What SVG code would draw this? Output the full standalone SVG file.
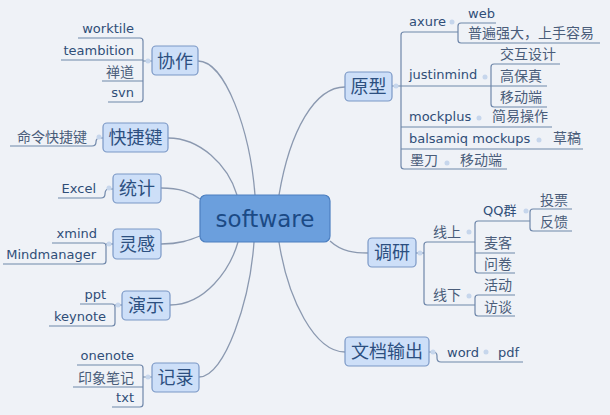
<svg xmlns="http://www.w3.org/2000/svg" width="610" height="415" viewBox="0 0 610 415">
<style>
.bg{fill:#eff2f7}
.main-link{fill:none;stroke:#8b99b0;stroke-width:1.3}
.sub-link{fill:none;stroke:#6f87aa;stroke-width:1.2}
.dot{fill:#c6d6ec}
.central rect{fill:#6b9fdd;stroke:#4c7fc0;stroke-width:1.2}
.central text{font-family:"DejaVu Sans","Noto Sans",sans-serif;font-size:23px;fill:#1b4a85;text-anchor:middle}
.topic rect{fill:#cddff8;stroke:#7b98c6;stroke-width:1.2}
.topic text{font-family:"Noto Sans CJK SC","Noto Sans CJK JP",sans-serif;font-size:18px;fill:#2c4f80;text-anchor:middle}
.en{font-family:"DejaVu Sans","Noto Sans CJK SC",sans-serif;font-size:13px;fill:#2f4e78}
.cn{font-family:"Noto Sans CJK SC","Noto Sans CJK JP",sans-serif;font-size:14px;fill:#4a5d7a}
.end{text-anchor:end}
</style>
<rect class="bg" x="0" y="0" width="610" height="415"/>

<g id="connectors">
  <!-- main curves -->
  <path class="main-link" d="M198,61 C225,61 250,130 255,195"/>
  <path class="main-link" d="M168,138 C200,138 228,165 237,195"/>
  <path class="main-link" d="M161,188 C180,188 190,192 200,199"/>
  <path class="main-link" d="M161,244 C180,244 190,240 200,236"/>
  <path class="main-link" d="M170,305 C205,305 230,270 238,242"/>
  <path class="main-link" d="M199,377 C225,377 250,300 254,242"/>
  <path class="main-link" d="M279,195 C290,130 315,87 345,87"/>
  <path class="main-link" d="M330,241 C342,252 355,253 368,253"/>
  <path class="main-link" d="M279,242 C288,300 315,352 345,352"/>

  <!-- 协作 -->
  <path class="sub-link" d="M78,38 H140 Q143,38 143,41 V99 Q143,102 140,102 H108"/>
  <path class="sub-link" d="M61,60 H143 M102,81 H143 M143,61 H152"/>
  <!-- 快捷键 -->
  <path class="sub-link" d="M10,146 H92 Q96,146 96,142 Q96,138 100,138 H103"/>
  <!-- 统计 -->
  <path class="sub-link" d="M58,198 H101 Q105,198 105,194 Q105,189 109,189 H113"/>
  <!-- 灵感 -->
  <path class="sub-link" d="M52,243 H103 Q106,243 106,246 V261 Q106,264 103,264 H3"/>
  <path class="sub-link" d="M106,244 H113"/>
  <!-- 演示 -->
  <path class="sub-link" d="M80,304 H112 Q115,304 115,307 V323 Q115,326 112,326 H49"/>
  <path class="sub-link" d="M115,305 H122"/>
  <!-- 记录 -->
  <path class="sub-link" d="M77,365 H140 Q143,365 143,368 V404 Q143,407 140,407 H112"/>
  <path class="sub-link" d="M73,387 H143 M143,377 H152"/>
  <!-- 原型 -->
  <path class="sub-link" d="M458,32 H404 Q401,32 401,35 V166 Q401,169 404,169 H507"/>
  <path class="sub-link" d="M392,86 H401 M401,86 H491 M401,127 H552 M401,149 H583"/>
  <path class="sub-link" d="M496,23 H461 Q458,23 458,26 V40 Q458,43 461,43 H600"/>
  <path class="sub-link" d="M560,64 H494 Q491,64 491,67 V104 Q491,107 494,107 H547 M491,86 H547"/>
  <!-- 调研 -->
  <path class="sub-link" d="M416,253 H424"/>
  <path class="sub-link" d="M475,242 H427 Q424,242 424,245 V302 Q424,305 427,305 H475"/>
  <path class="sub-link" d="M530,221 H478 Q475,221 475,224 V270 Q475,273 478,273 H515 M475,253 H515"/>
  <path class="sub-link" d="M572,209 H533 Q530,209 530,212 V228 Q530,231 533,231 H572"/>
  <path class="sub-link" d="M515,295 H478 Q475,295 475,298 V313 Q475,316 478,316 H515"/>
  <!-- 文档输出 -->
  <path class="sub-link" d="M429,352 H433 Q437,352 437,356 V358 Q437,362 441,362 H523"/>

  <!-- collapse dots -->
  <circle class="dot" cx="148" cy="61" r="2.5"/>
  <circle class="dot" cx="99" cy="137" r="2.5"/>
  <circle class="dot" cx="109" cy="188" r="2.5"/>
  <circle class="dot" cx="109" cy="244" r="2.5"/>
  <circle class="dot" cx="118" cy="305" r="2.5"/>
  <circle class="dot" cx="148" cy="377" r="2.5"/>
  <circle class="dot" cx="396" cy="86" r="2.5"/>
  <circle class="dot" cx="452" cy="22" r="2.5"/>
  <circle class="dot" cx="485" cy="77" r="2.5"/>
  <circle class="dot" cx="479" cy="118" r="2.5"/>
  <circle class="dot" cx="539" cy="140" r="2.5"/>
  <circle class="dot" cx="447" cy="163" r="2.5"/>
  <circle class="dot" cx="420" cy="253" r="2.5"/>
  <circle class="dot" cx="469" cy="232" r="2.5"/>
  <circle class="dot" cx="526" cy="211" r="2.5"/>
  <circle class="dot" cx="469" cy="296" r="2.5"/>
  <circle class="dot" cx="433" cy="352" r="2.5"/>
  <circle class="dot" cx="486" cy="352" r="2.5"/>
</g>

<g id="software" class="central">
  <rect x="200" y="195" width="130" height="47" rx="6"/>
  <text x="265" y="227">software</text>
</g>

<g id="xiezuo" class="topic"><rect x="152" y="46" width="46" height="29" rx="4"/><text x="175" y="67.5">协作</text></g>
<g id="kuaijiejian" class="topic"><rect x="103" y="123" width="65" height="29" rx="4"/><text x="135.5" y="144">快捷键</text></g>
<g id="tongji" class="topic"><rect x="113" y="174" width="48" height="29" rx="4"/><text x="137" y="195">统计</text></g>
<g id="linggan" class="topic"><rect x="113" y="229" width="48" height="30" rx="4"/><text x="137" y="250.5">灵感</text></g>
<g id="yanshi" class="topic"><rect x="122" y="291" width="48" height="29" rx="4"/><text x="146" y="312">演示</text></g>
<g id="jilu" class="topic"><rect x="152" y="363" width="47" height="29" rx="4"/><text x="175.5" y="384">记录</text></g>
<g id="yuanxing" class="topic"><rect x="345" y="72" width="47" height="29" rx="4"/><text x="368.5" y="93">原型</text></g>
<g id="diaoyan" class="topic"><rect x="368" y="238" width="48" height="29" rx="4"/><text x="392" y="259">调研</text></g>
<g id="wendangshuchu" class="topic"><rect x="345" y="337" width="84" height="29" rx="4"/><text x="387" y="358">文档输出</text></g>

<!-- leaves: left -->
<g id="worktile"><text class="en end" x="134" y="33">worktile</text></g>
<g id="teambition"><text class="en end" x="134" y="55">teambition</text></g>
<g id="chandao"><text class="cn end" x="134" y="77">禅道</text></g>
<g id="svn"><text class="en end" x="134" y="97">svn</text></g>
<g id="mingling"><text class="cn end" x="87" y="142">命令快捷键</text></g>
<g id="excel"><text class="en end" x="96" y="193">Excel</text></g>
<g id="xmind"><text class="en end" x="97" y="238">xmind</text></g>
<g id="mindmanager"><text class="en end" x="96" y="259">Mindmanager</text></g>
<g id="ppt"><text class="en end" x="106" y="299">ppt</text></g>
<g id="keynote"><text class="en end" x="106" y="321">keynote</text></g>
<g id="onenote"><text class="en end" x="134" y="360">onenote</text></g>
<g id="yinxiang"><text class="cn end" x="134" y="383">印象笔记</text></g>
<g id="txt"><text class="en end" x="134" y="402">txt</text></g>

<!-- leaves: 原型 -->
<g id="axure"><text class="en" x="409" y="26">axure</text></g>
<g id="web"><text class="en" x="468" y="18">web</text></g>
<g id="pubian"><text class="cn" x="468" y="38">普遍强大，上手容易</text></g>
<g id="justinmind"><text class="en" x="409" y="79">justinmind</text></g>
<g id="jiaohu"><text class="cn" x="500" y="59">交互设计</text></g>
<g id="gaobaozhen"><text class="cn" x="500" y="81">高保真</text></g>
<g id="yidongduan1"><text class="cn" x="500" y="102">移动端</text></g>
<g id="mockplus"><text class="en" x="409" y="121">mockplus</text></g>
<g id="jianyi"><text class="cn" x="492" y="121">简易操作</text></g>
<g id="balsamiq"><text class="en" x="409" y="143">balsamiq mockups</text></g>
<g id="caogao"><text class="cn" x="553" y="143">草稿</text></g>
<g id="modao"><text class="cn" x="410" y="165">墨刀</text></g>
<g id="yidongduan2"><text class="cn" x="460" y="165">移动端</text></g>

<!-- leaves: 调研 -->
<g id="xianshang"><text class="cn" x="433" y="237">线上</text></g>
<g id="qqqun"><text class="en" x="483" y="215">QQ群</text></g>
<g id="toupiao"><text class="cn" x="540" y="205">投票</text></g>
<g id="fankui"><text class="cn" x="540" y="227">反馈</text></g>
<g id="maike"><text class="cn" x="484" y="248">麦客</text></g>
<g id="wenjuan"><text class="cn" x="484" y="269">问卷</text></g>
<g id="xianxia"><text class="cn" x="433" y="300">线下</text></g>
<g id="huodong"><text class="cn" x="484" y="290">活动</text></g>
<g id="fangtan"><text class="cn" x="484" y="312">访谈</text></g>

<!-- leaves: 文档输出 -->
<g id="word"><text class="en" x="447" y="357">word</text></g>
<g id="pdf"><text class="en" x="498" y="357">pdf</text></g>
</svg>
